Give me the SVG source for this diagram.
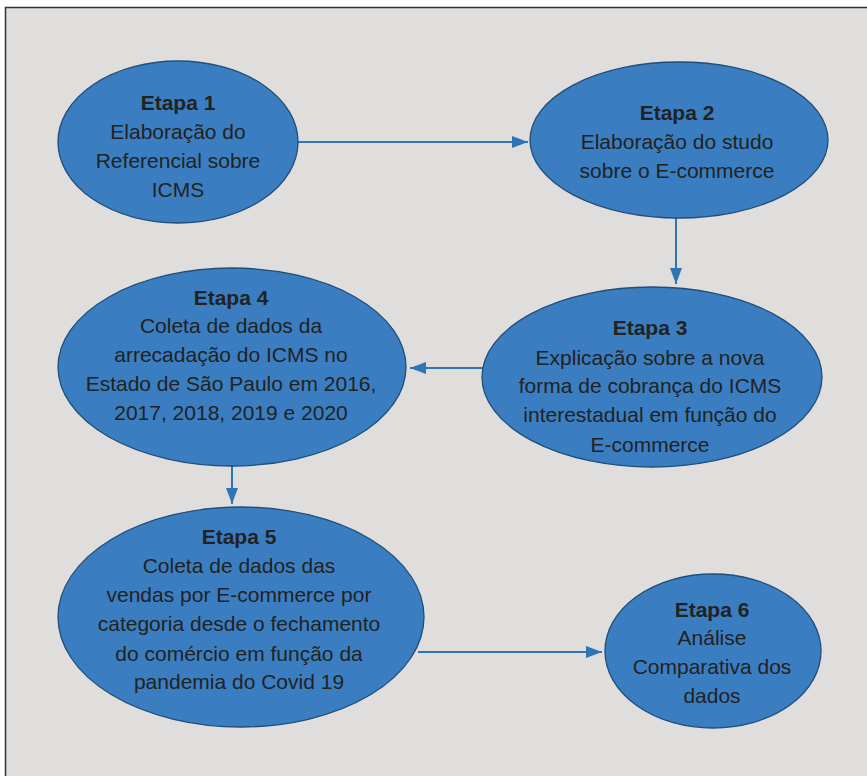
<svg xmlns="http://www.w3.org/2000/svg" width="867" height="776" viewBox="0 0 867 776">
<defs>
<style>
.node{fill:#3a7ec1;stroke:#1f4e79;stroke-width:1.3}
.t{font-family:"Liberation Sans",Arial,sans-serif;font-size:21px;fill:#222;text-anchor:middle}
.b{font-weight:bold}
.c{stroke:#2e75b6;stroke-width:2;fill:none;marker-end:url(#ah)}
</style>
<marker id="ah" markerWidth="8" markerHeight="6" refX="8" refY="3" orient="auto" markerUnits="strokeWidth">
<path d="M0,0 L8,3 L0,6 Z" fill="#2e75b6"/>
</marker>
</defs>
<rect width="867" height="776" fill="#ffffff"/>
<rect x="5.5" y="7.5" width="900" height="800" fill="#dfdedd" stroke="#333" stroke-width="1.5"/>
<g id="connectors">
<line class="c" x1="292" y1="142" x2="528" y2="142"/>
<line class="c" x1="676" y1="216" x2="676" y2="284"/>
<line class="c" x1="483" y1="368" x2="410" y2="368"/>
<line class="c" x1="232" y1="464" x2="232" y2="504"/>
<line class="c" x1="418" y1="652" x2="602" y2="652"/>
</g>
<g id="etapa1">
<ellipse class="node" cx="178" cy="142" rx="120" ry="81"/>
<text class="t b" x="178" y="110">Etapa 1</text>
<text class="t" x="178" y="139">Elaboração do</text>
<text class="t" x="178" y="168">Referencial sobre</text>
<text class="t" x="178" y="197">ICMS</text>
</g>
<g id="etapa2">
<ellipse class="node" cx="679" cy="140" rx="149" ry="78"/>
<text class="t b" x="677" y="120">Etapa 2</text>
<text class="t" x="677" y="149">Elaboração do studo</text>
<text class="t" x="677" y="178">sobre o E-commerce</text>
</g>
<g id="etapa3">
<ellipse class="node" cx="652" cy="377" rx="170" ry="90"/>
<text class="t b" x="650" y="335">Etapa 3</text>
<text class="t" x="650" y="365">Explicação sobre a nova</text>
<text class="t" x="650" y="393">forma de cobrança do ICMS</text>
<text class="t" x="650" y="422">interestadual em função do</text>
<text class="t" x="650" y="452">E-commerce</text>
</g>
<g id="etapa4">
<ellipse class="node" cx="232" cy="367" rx="174" ry="99"/>
<text class="t b" x="231" y="305">Etapa 4</text>
<text class="t" x="231" y="333">Coleta de dados da</text>
<text class="t" x="231" y="362">arrecadação do ICMS no</text>
<text class="t" x="231" y="391">Estado de São Paulo em 2016,</text>
<text class="t" x="231" y="420">2017, 2018, 2019 e 2020</text>
</g>
<g id="etapa5">
<ellipse class="node" cx="241" cy="617" rx="183" ry="110"/>
<text class="t b" x="239" y="544">Etapa 5</text>
<text class="t" x="239" y="573">Coleta de dados das</text>
<text class="t" x="239" y="602">vendas por E-commerce por</text>
<text class="t" x="239" y="631">categoria desde o fechamento</text>
<text class="t" x="239" y="661">do comércio em função da</text>
<text class="t" x="239" y="689">pandemia do Covid 19</text>
</g>
<g id="etapa6">
<ellipse class="node" cx="713" cy="651" rx="108" ry="77"/>
<text class="t b" x="712" y="617">Etapa 6</text>
<text class="t" x="712" y="645">Análise</text>
<text class="t" x="712" y="674">Comparativa dos</text>
<text class="t" x="712" y="703">dados</text>
</g>
</svg>
